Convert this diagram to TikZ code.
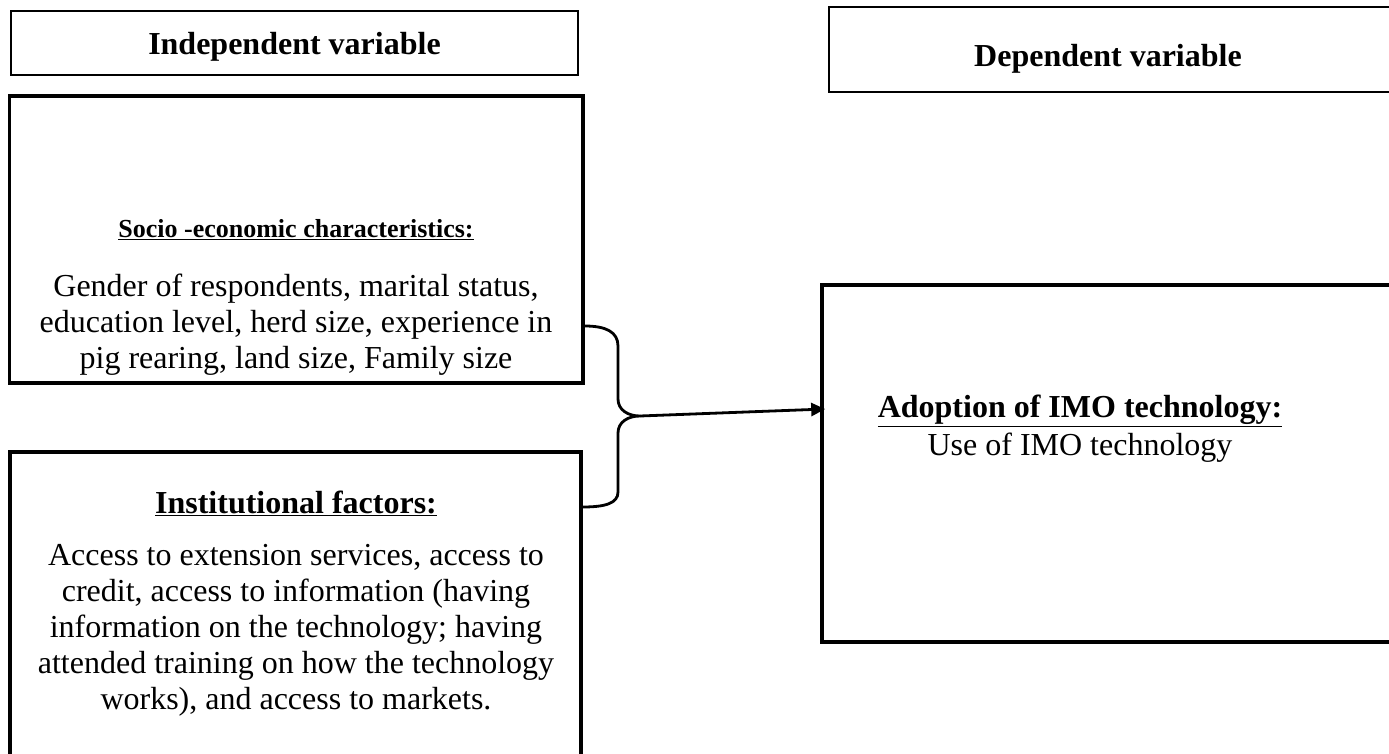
\documentclass[tikz,border=0pt]{standalone}
\usepackage{fontspec}
\setmainfont{Liberation Serif}
\usetikzlibrary{arrows.meta}
\begin{document}
\begin{tikzpicture}[x=1pt,y=-1pt,
  thinbox/.style={draw,line width=2pt,inner sep=0pt},
  thickbox/.style={draw,line width=3.6pt,inner sep=0pt},
  txt/.style={inner sep=0pt,align=center,font=\fontsize{32}{36}\selectfont},
  ttl/.style={inner sep=0pt,align=center,font=\fontsize{32}{36}\selectfont\bfseries},
  smallttl/.style={inner sep=0pt,align=center,font=\fontsize{26}{36}\selectfont\bfseries},
  conn/.style={line width=2.8pt}]
\clip (0,0) rectangle (1389,754);
\fill[white] (0,0) rectangle (1389,754);
% header boxes
\node[thinbox,minimum width=567pt,minimum height=64pt] (indep) at (294.5,43) {};
\node[ttl] (indepT) at (294.5,47) {Independent variable};
\node[thinbox,minimum width=564pt,minimum height=85pt] (dep) at (1111,49.5) {};
\node[ttl] (depT) at (1108,59) {Dependent variable};
% socio-economic
\node[thickbox,minimum width=573.5pt,minimum height=287pt] (socio) at (296.25,239.5) {};
\node[smallttl] (socioT) at (296,230) {\underline{Socio -economic characteristics:}};
\node[txt] (socioB) at (296,325) {Gender of respondents, marital status,\\education level, herd size, experience in\\pig rearing, land size, Family size};
% institutional
\node[thickbox,minimum width=571pt,minimum height=330pt] (inst) at (295.5,617) {};
\node[ttl] (instT) at (296,503) {\underline{Institutional factors:}};
\node[txt] (instB) at (296,630) {Access to extension services, access to\\credit, access to information (having\\information on the technology; having\\attended training on how the technology\\works), and access to markets.};
% adoption
\node[thickbox,minimum width=573pt,minimum height=357pt] (adopt) at (1108.5,463.5) {};
\node[ttl] (adoptT) at (1080,411) {\underline{Adoption of IMO technology:}};
\node[txt] (adoptB) at (1080,448) {Use of IMO technology};
% brace and arrow
\coordinate (bt) at (socio.east |- 0,326);
\coordinate (bb) at (inst.east |- 0,507);
\coordinate (tip) at (640,416);
\coordinate (ain) at (adopt.west |- 0,409);
\draw[conn,line join=round] (bt) .. controls (606,326) and (618,332) .. (618,346) -- (618,399)
  .. controls (618,410) and (628,416) .. (tip)
  .. controls (628,416) and (618,422) .. (618,433) -- (618,492)
  .. controls (618,503) and (606,507) .. (bb);
\draw[conn,-{Triangle[length=14pt,width=13pt]}] (tip) -- ([xshift=5pt]ain);
\end{tikzpicture}
\end{document}
